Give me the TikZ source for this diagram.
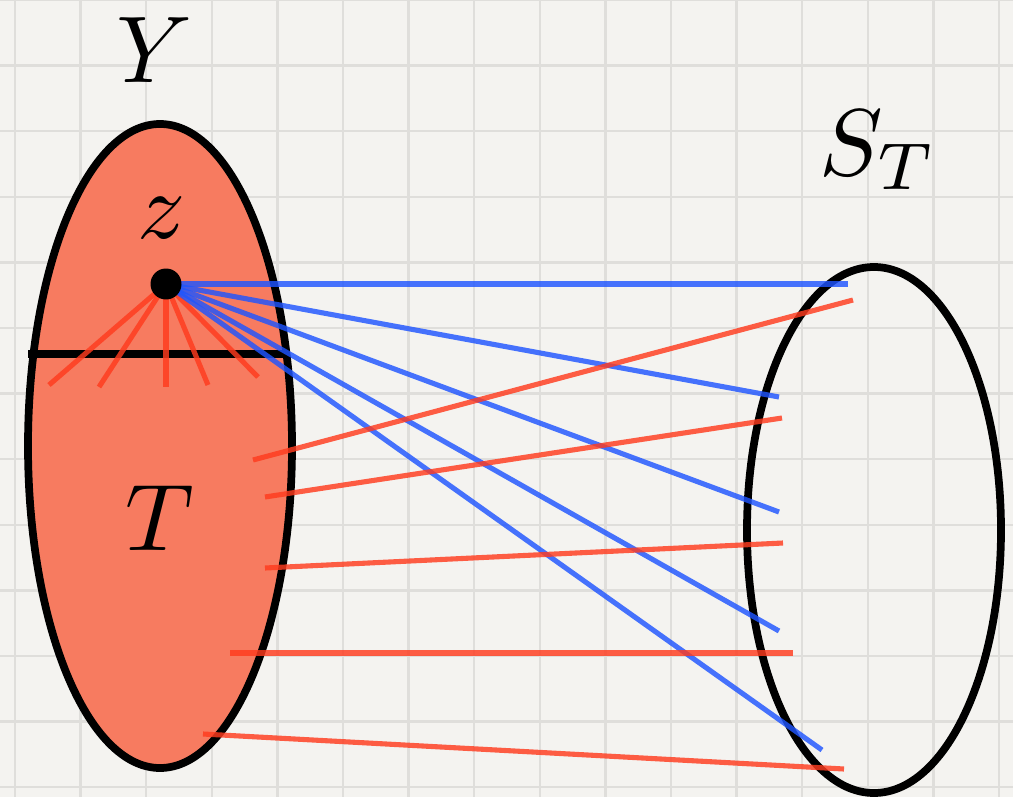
\documentclass[tikz,border=0pt]{standalone}
\usepackage{xcolor}
\usepackage{tikz}
\usetikzlibrary{positioning,calc}

\definecolor{paper}{HTML}{F4F3F0}
\definecolor{gridline}{HTML}{DFDEDB}
\definecolor{salmon}{HTML}{F77B60}
\definecolor{redline}{HTML}{FF3B1E}
\definecolor{blueline}{HTML}{1F55FF}

\begin{document}
\begin{tikzpicture}[
  x=0.02cm, y=-0.02cm,
  lbl/.style={scale=5.4},
  rim/.style={draw=black, line width=4.4pt},
  redl/.style={draw=redline, line width=2.9pt, draw opacity=0.82},
  bluel/.style={draw=blueline, line width=2.9pt, draw opacity=0.82},
  dot/.style={circle, fill=black, inner sep=0pt, minimum size=0.62cm}
]
\useasboundingbox (0,0) rectangle (1013,797);
\fill[paper] (0,0) rectangle (1013,797);
\foreach \k in {0,...,15}
  \draw[gridline, line width=1.3pt] ({15+65.6*\k},0) -- ({15+65.6*\k},797);
\foreach \k in {0,...,12}
  \draw[gridline, line width=1.3pt] (0,{65.6*\k}) -- (1013,{65.6*\k});

\fill[salmon] (160,446) ellipse [x radius=132, y radius=322];
\draw[rim] (28,354) -- (290,354);
\draw[rim] (160,446) ellipse [x radius=132, y radius=322];
\draw[rim] (874,530) ellipse [x radius=127, y radius=263];

\node[lbl] (Y) at (155,50) {$Y$};
\node[lbl] (zl) at (162,218) {$z$};
\node[lbl] (T) at (160,518) {$T$};
\node[lbl] (ST) at (878,150) {$S_T$};

\coordinate (zc) at (166,284);
\foreach \x/\y [count=\i] in {49/385, 99/387, 166/387, 208/385, 258/377} {
  \coordinate (f\i) at (\x,\y);
  \draw[redl] (zc) -- (f\i);
}
\foreach \x/\y [count=\i] in {848/284, 779/397, 779/512, 779/631, 822/750} {
  \coordinate (b\i) at (\x,\y);
  \draw[bluel] (zc) -- (b\i);
}
\foreach \xa/\ya/\xb/\yb [count=\i] in {253/460/853/300, 265/497/782/418, 265/568/783/543, 230/653/793/653, 203/734/844/769} {
  \coordinate (ra\i) at (\xa,\ya);
  \coordinate (rb\i) at (\xb,\yb);
  \draw[redl] (ra\i) -- (rb\i);
}
\node[dot] (z) at (zc) {};
\end{tikzpicture}
\end{document}
